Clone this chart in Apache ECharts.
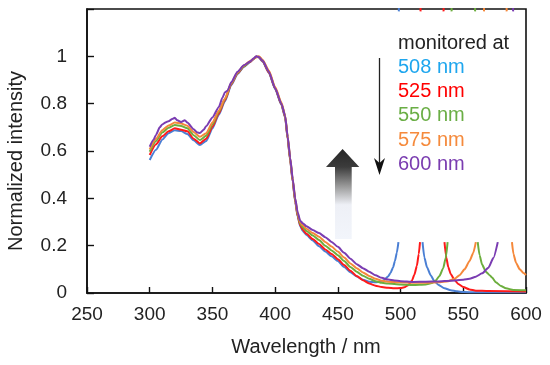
<!DOCTYPE html>
<html>
<head>
<meta charset="utf-8">
<script src="https://cdn.jsdelivr.net/npm/echarts@6/dist/echarts.min.js"></script>
<style>html,body{margin:0;padding:0;background:#fff;}#c{width:550px;height:365px;}</style>
</head>
<body>
<div id="c"></div>
<script>
// ---- data ----
var xTicks = [250, 300, 350, 400, 450, 500, 550, 600];
var yTicks = [0, 0.2, 0.4, 0.6, 0.8, 1];
var seriesNames = ['508 nm', '525 nm', '550 nm', '575 nm', '600 nm'];
var legendTitle = 'monitored at';

// each array: wavelengths and intensities; null marks a break in the drawn line
var wl508  = [300,305,310,315,320,325,330,335,340,345,350,355,360,365,370,375,380,383,385,387,390,395,400,405,408,410,412,414,416,418,420,422,425,430,435,440,445,450,455,460,465,470,475,480,484,487,490,492,494,495.5,497,498.3, 505, 517.5,519,521,524,527,530,535,540,545,550,560,580,600, 602, 498.6,498.9];
var int508 = [.562,.605,.648,.675,.688,.684,.672,.645,.625,.642,.695,.752,.81,.878,.925,.955,.975,.99,.998,.995,.978,.93,.862,.795,.74,.65,.56,.47,.385,.322,.282,.262,.245,.222,.198,.175,.155,.135,.11,.088,.07,.056,.048,.045,.047,.055,.07,.085,.108,.135,.17,.215, null, .215,.15,.11,.075,.05,.035,.02,.012,.007,.004,.003,.003,.003, null, 1.19,1.3];

var wl525  = [300,305,310,315,320,325,330,335,340,345,350,355,360,365,370,375,380,383,385,387,390,395,400,405,408,410,412,414,416,418,420,422,425,430,435,440,445,450,455,460,465,470,475,480,485,490,495,500,503,506,509,511,513,514.5,515.5, 525, 535,536.5,538,540,543,546,550,555,560,570,600, 602, 515.9,516.1, 520, 534.3,534.1];
var int525 = [.583,.628,.662,.683,.696,.69,.683,.652,.632,.652,.702,.758,.815,.882,.928,.957,.977,.99,.999,.996,.98,.932,.864,.797,.742,.652,.562,.472,.387,.325,.286,.268,.25,.228,.207,.184,.165,.143,.118,.094,.072,.054,.04,.031,.025,.022,.02,.021,.024,.033,.052,.077,.115,.165,.215, null, .215,.15,.11,.08,.055,.038,.025,.015,.01,.008,.006, null, 1.19,1.3, null, 1.19,1.3];

var wl550  = [300,305,310,315,320,325,330,335,340,345,350,355,360,365,370,375,380,383,385,387,390,395,400,405,408,410,412,414,416,418,420,422,425,430,435,440,445,450,455,460,465,470,475,480,485,490,500,510,520,525,528,531,534,536,537.5, 550, 561.5,563,565,568,571,573,576,580,584,590,600, 602, 540.7,540.5, 550, 559.4,559.6];
var int550 = [.597,.642,.678,.698,.71,.706,.696,.667,.646,.664,.712,.765,.82,.885,.93,.958,.978,.99,.998,.998,.982,.935,.866,.8,.746,.656,.566,.476,.392,.33,.292,.278,.262,.243,.224,.2,.18,.16,.135,.11,.09,.073,.06,.05,.043,.04,.036,.034,.036,.042,.053,.072,.105,.148,.215, null, .215,.16,.12,.09,.075,.065,.045,.03,.02,.013,.012, null, 1.19,1.3, null, 1.19,1.3];

var wl575  = [300,305,310,315,320,325,330,335,340,345,350,355,360,365,370,375,380,383,385,387,390,395,400,405,408,410,412,414,416,418,420,422,425,430,435,440,445,450,455,460,465,470,475,480,485,490,500,510,520,530,538,543,547,551,555,558,560, 575, 588.8,590,592,595,598,600, 602, 566.5,566.8, 575, 584.6,584.3];
var int575 = [.607,.652,.688,.708,.72,.716,.707,.68,.66,.675,.72,.77,.822,.887,.932,.961,.98,.99,.996,1.0,.986,.94,.87,.805,.75,.66,.57,.48,.397,.335,.298,.286,.272,.253,.238,.216,.196,.175,.15,.125,.105,.087,.072,.06,.052,.048,.045,.043,.043,.045,.05,.06,.075,.1,.135,.17,.215, null, .215,.165,.128,.1,.084,.076, null, 1.19,1.3, null, 1.19,1.3];

var wl600  = [300,303,305,308,310,313,315,318,320,322,325,328,330,335,338,340,343,345,350,355,358,360,362,365,370,375,380,383,385,387,390,395,400,405,408,410,412,414,416,418,420,422,425,430,435,440,445,450,455,460,465,470,475,480,485,490,495,500,510,520,530,540,550,555,560,565,570,574,577.5, 585, 589.7,590];
var int600 = [.618,.648,.668,.7,.712,.722,.726,.735,.74,.73,.722,.73,.72,.692,.678,.676,.69,.705,.742,.785,.825,.848,.855,.89,.935,.962,.978,.992,1.0,.997,.982,.935,.865,.8,.748,.66,.572,.483,.4,.34,.305,.295,.282,.266,.253,.236,.216,.195,.17,.145,.122,.105,.09,.075,.064,.057,.053,.05,.047,.048,.049,.052,.056,.06,.069,.083,.107,.148,.215, null, 1.19,1.3];

var lineColors = ['#4a7fd4', '#ff1a1a', '#6cae3e', '#f5883a', '#7a3cb2'];
var textColors = ['#1ea6ee', '#ff0000', '#6aae45', '#f58a3c', '#7a3cb0'];

function pairs(xs, ys) {
  var out = [];
  for (var i = 0; i < xs.length; i++) out.push([xs[i], ys[i] === null ? null : ys[i]]);
  return out;
}
var allData = [pairs(wl508, int508), pairs(wl525, int525), pairs(wl550, int550), pairs(wl575, int575), pairs(wl600, int600)];

var FONT = 'Liberation Sans, Arial, sans-serif';
var chart = echarts.init(document.getElementById('c'), null, {renderer: 'canvas'});

var series = allData.map(function (d, i) {
  return {
    name: seriesNames[i], type: 'line', data: d, showSymbol: false, symbol: 'none',
    connectNulls: false, clip: true, smooth: 0.2, smoothMonotone: 'x',
    lineStyle: {color: lineColors[i], width: 2}, itemStyle: {color: lineColors[i]},
    z: 2 + i, animation: false
  };
});

var graphics = [];
graphics.push({type: 'text', x: 398, y: 43, style: {text: legendTitle, fill: '#222', font: '20px ' + FONT, align: 'left', verticalAlign: 'middle'}, z: 10});
var legY = [67, 91, 115, 140, 164];
seriesNames.forEach(function (n, i) {
  graphics.push({type: 'text', x: 398, y: legY[i], style: {text: n, fill: textColors[i], font: '20px ' + FONT, align: 'left', verticalAlign: 'middle'}, z: 10});
});
// thin down arrow
graphics.push({type: 'line', shape: {x1: 379.5, y1: 58, x2: 379.5, y2: 166}, style: {stroke: '#222', lineWidth: 1.3}, z: 10});
graphics.push({type: 'polygon', shape: {points: [[374, 158], [379.5, 175], [385, 158], [379.5, 163]]}, style: {fill: '#111'}, z: 10});
// gradient up arrow
graphics.push({type: 'polygon', shape: {points: [[326, 167], [342.6, 149], [359.3, 167], [351.7, 167], [351.7, 239], [335, 239], [335, 167]]},
  style: {fill: new echarts.graphic.LinearGradient(0, 0, 0, 1, [
    {offset: 0, color: '#262626'}, {offset: 0.2, color: '#3c3c3c'}, {offset: 0.42, color: '#9c9c9c'},
    {offset: 0.62, color: '#eef0f6'}, {offset: 1, color: '#f2f5fb'}])}, z: 10});
// axis names
graphics.push({type: 'text', x: 306, y: 347, style: {text: 'Wavelength / nm', fill: '#222', font: '20px ' + FONT, align: 'center', verticalAlign: 'middle'}, z: 10});
graphics.push({type: 'text', x: 16, y: 161, rotation: Math.PI / 2, style: {text: 'Normalized intensity', fill: '#222', font: '20px ' + FONT, align: 'center', verticalAlign: 'middle'}, z: 10});

chart.setOption({
  animation: false,
  backgroundColor: '#fff',
  grid: {left: 87, right: 24, top: 9, bottom: 72, show: true, borderColor: '#111', borderWidth: 1.6, backgroundColor: 'transparent'},
  xAxis: {
    type: 'value', min: xTicks[0], max: xTicks[xTicks.length - 1], interval: 50,
    axisLine: {show: true, lineStyle: {color: '#111', width: 1.6}},
    axisTick: {show: true, inside: true, length: 6, lineStyle: {color: '#111', width: 1.4}},
    axisLabel: {color: '#222', fontSize: 19, fontFamily: FONT, margin: 12},
    splitLine: {show: false}
  },
  yAxis: {
    type: 'value', min: 0, max: 1.2, interval: 0.2,
    axisLine: {show: true, lineStyle: {color: '#111', width: 1.6}},
    axisTick: {show: true, inside: true, length: 7, lineStyle: {color: '#111', width: 1.4}},
    axisLabel: {color: '#222', fontSize: 19, fontFamily: FONT, margin: 20,
      formatter: function (v) { return yTicks.some(function (t) { return Math.abs(t - v) < 1e-9; }) ? String(+v.toFixed(1)) : ''; }},
    splitLine: {show: false}
  },
  series: series,
  graphic: graphics
});
</script>
</body>
</html>
